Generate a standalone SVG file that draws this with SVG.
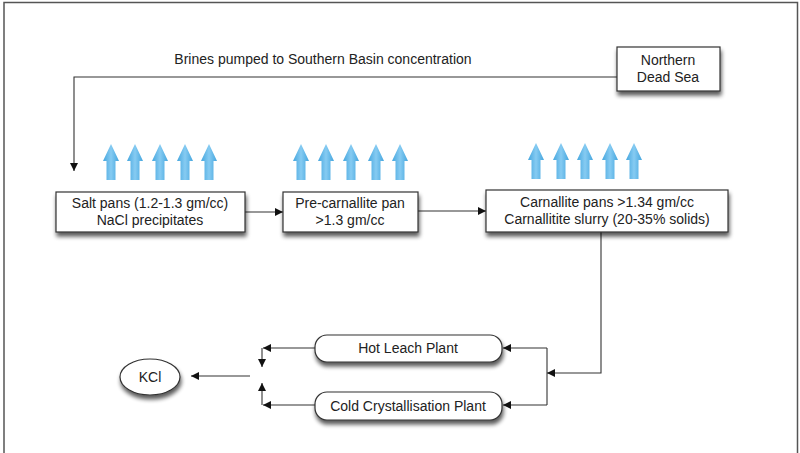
<svg xmlns="http://www.w3.org/2000/svg" width="800" height="453" viewBox="0 0 800 453">
<style>
text{font-family:"Liberation Sans",Arial,sans-serif;font-size:14px;fill:#222;text-anchor:middle}
.box{fill:#fff;stroke:#333;stroke-width:1.2;filter:url(#sh)}
.con{fill:none;stroke:#333;stroke-width:1.1}
.up{fill:url(#bl)}
</style>
<defs>
<filter id="sh" x="-20%" y="-30%" width="140%" height="170%">
<feGaussianBlur in="SourceAlpha" stdDeviation="2.2"/>
<feOffset dx="1" dy="3.5" result="b"/>
<feComponentTransfer><feFuncA type="linear" slope="0.65"/></feComponentTransfer>
<feMerge><feMergeNode/><feMergeNode in="SourceGraphic"/></feMerge>
</filter>
<linearGradient id="bl" x1="0" x2="1" y1="0" y2="0">
<stop offset="0" stop-color="#45a6de"/>
<stop offset="0.5" stop-color="#86cbf2"/>
<stop offset="1" stop-color="#45a6de"/>
</linearGradient>
<marker id="ah" viewBox="0 0 10 10" refX="10" refY="5" markerWidth="9" markerHeight="8" markerUnits="userSpaceOnUse" orient="auto">
<path d="M0,0 L10,5 L0,10 z" fill="#111"/>
</marker>
<path id="ua" d="M0,0 L8,17 L4.5,17 L4.5,36 L-4.5,36 L-4.5,17 L-8,17 z"/>
</defs>
<rect x="0" y="0" width="800" height="453" fill="#fff"/>
<path d="M4,453 V2.5 H797.5 V453" fill="none" stroke="#555" stroke-width="1.5"/>
<text x="323" y="64">Brines pumped to Southern Basin concentration</text>

<g id="connectors">
<path class="con" d="M617,77 H74 V171" marker-end="url(#ah)"/>
<path class="con" d="M245,212 H283" marker-end="url(#ah)"/>
<path class="con" d="M418,211 H486" marker-end="url(#ah)"/>
<path class="con" d="M601,232 V373 H547" marker-end="url(#ah)"/>
<path class="con" d="M547,348 V405"/>
<path class="con" d="M547,348 H503" marker-end="url(#ah)"/>
<path class="con" d="M547,405 H503" marker-end="url(#ah)"/>
<path class="con" d="M315,348 H263" marker-end="url(#ah)"/>
<path class="con" d="M262,348 V367" marker-end="url(#ah)"/>
<path class="con" d="M315,405 H263" marker-end="url(#ah)"/>
<path class="con" d="M262,405 V383" marker-end="url(#ah)"/>
<path class="con" d="M250,376 H191" marker-end="url(#ah)"/>
</g>

<g id="evap1">
<use href="#ua" class="up" x="111" y="144"/><use href="#ua" class="up" x="135" y="144"/><use href="#ua" class="up" x="160" y="144"/><use href="#ua" class="up" x="185" y="144"/><use href="#ua" class="up" x="209" y="144"/>
</g>
<g id="evap2">
<use href="#ua" class="up" x="301" y="144"/><use href="#ua" class="up" x="326" y="144"/><use href="#ua" class="up" x="351" y="144"/><use href="#ua" class="up" x="376" y="144"/><use href="#ua" class="up" x="400" y="144"/>
</g>
<g id="evap3">
<use href="#ua" class="up" x="536" y="143"/><use href="#ua" class="up" x="561" y="143"/><use href="#ua" class="up" x="585" y="143"/><use href="#ua" class="up" x="610" y="143"/><use href="#ua" class="up" x="634" y="143"/>
</g>

<g id="northern">
<rect class="box" x="617" y="47" width="103" height="44"/>
<text x="668" y="65">Northern</text>
<text x="668" y="82">Dead Sea</text>
</g>
<g id="saltpans">
<rect class="box" x="56" y="192" width="189" height="40"/>
<text x="150" y="208">Salt pans (1.2-1.3 gm/cc)</text>
<text x="150" y="225">NaCl precipitates</text>
</g>
<g id="precarnallite">
<rect class="box" x="283" y="192" width="135" height="40"/>
<text x="350" y="208">Pre-carnallite pan</text>
<text x="350" y="225">&gt;1.3 gm/cc</text>
</g>
<g id="carnallite">
<rect class="box" x="486" y="190" width="242" height="42"/>
<text x="607" y="207">Carnallite pans &gt;1.34 gm/cc</text>
<text x="607" y="224">Carnallitite slurry (20-35% solids)</text>
</g>
<g id="hotleach">
<rect class="box" x="315" y="335" width="187" height="27" rx="12"/>
<text x="408" y="353">Hot Leach Plant</text>
</g>
<g id="coldcryst">
<rect class="box" x="315" y="392" width="187" height="28" rx="12"/>
<text x="408" y="411">Cold Crystallisation Plant</text>
</g>
<g id="kcl">
<ellipse class="box" cx="150" cy="377" rx="30" ry="18"/>
<text x="150" y="382">KCl</text>
</g>
</svg>
